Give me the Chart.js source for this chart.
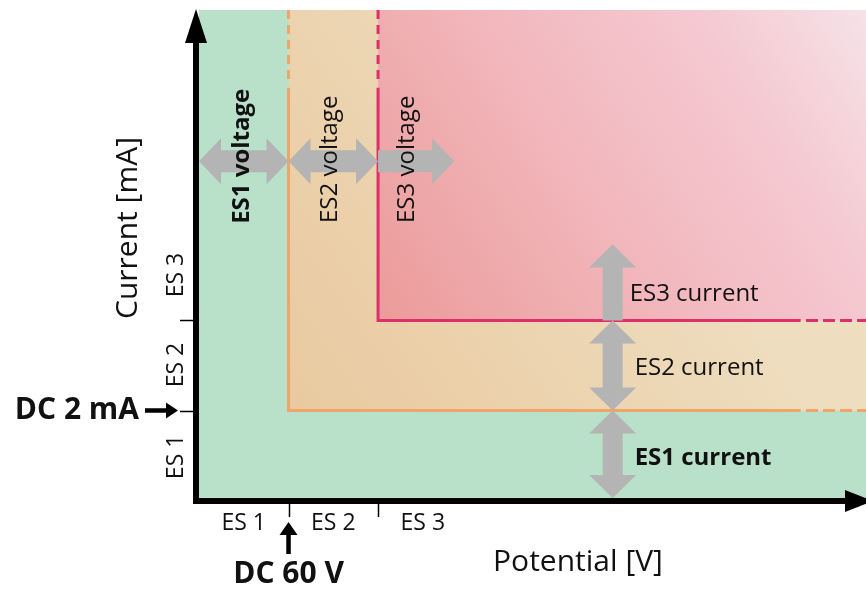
<!DOCTYPE html>
<html>
<head>
<meta charset="utf-8">
<script src="https://cdn.jsdelivr.net/npm/chart.js@4"></script>
<style>
  html, body { margin: 0; padding: 0; background: #fff; }
  #wrap { width: 866px; height: 589px; position: relative; }
</style>
</head>
<body>
<div id="wrap"><canvas id="chart"></canvas></div>
<script>
// Zones (schematic units, not real values)
const zoneLabels = ['ES 1', 'ES 2', 'ES 3'];
const voltageLimits = [1, 2];        // ES1/ES2 and ES2/ES3 on the potential axis
const currentLimits = [1, 2.03];     // ES1/ES2 and ES2/ES3 on the current axis
const xLabelPos = [0.5, 1.5, 2.5];
const yLabelPos = [0.47, 1.52, 2.55];
const X_MAX = 7.45;
const Y_MAX = 5.58;
const dashFromX = 6.72;              // where horizontal limits turn dashed
const dashFromY = 4.69;              // where vertical limits turn dashed

// arrows: [from, to, headAtStart, headAtEnd]
const voltageArrows = [[0, 1, true, true], [1, 2, true, true], [2, 2.85, false, true]];
const currentArrows = [[0, 1, true, true], [1, 2.03, true, true], [2.03, 2.9, false, true]];
const currentArrowX = 4.62;
const voltageArrowY = 3.85;
const voltageTexts = ['ES1 voltage', 'ES2 voltage', 'ES3 voltage'];
const voltageTextX = [0.48, 1.46, 2.32];
const currentTexts = ['ES3 current', 'ES2 current', 'ES1 current'];
const currentTextY = [2.33, 1.48, 0.45];

const FONT = '"Open Sans", "Noto Sans", sans-serif';
const ORANGE = '#efa46a';
const PINK = '#de2f6d';

function lineSet(points, color, dash) {
  return {
    type: 'line',
    data: points,
    borderColor: color,
    borderWidth: 3,
    borderDash: dash || [],
    borderCapStyle: 'butt',
    borderJoinStyle: 'miter',
    pointRadius: 0,
    fill: false,
    tension: 0,
  };
}

function limitLines(xv, yv, color) {
  return [
    lineSet([{ x: xv, y: dashFromY }, { x: xv, y: yv }, { x: dashFromX, y: yv }], color),
    lineSet([{ x: xv, y: Y_MAX }, { x: xv, y: dashFromY + 0.04 }], color, [9, 6]),
    lineSet([{ x: dashFromX + 0.06, y: yv }, { x: X_MAX, y: yv }], color, [12, 5]),
  ];
}

function zoneFill(xv, yv, bg) {
  return {
    type: 'line',
    data: [{ x: xv, y: yv }, { x: X_MAX, y: yv }],
    borderWidth: 0,
    pointRadius: 0,
    fill: 'end',
    backgroundColor: bg,
  };
}

function pinkGradient(c) {
  const chart = c.chart;
  const area = chart.chartArea;
  if (!area) return '#f0b8bc';
  const x0 = chart.scales.x.getPixelForValue(voltageLimits[1]);
  const y0 = chart.scales.y.getPixelForValue(currentLimits[1]);
  const g = chart.ctx.createLinearGradient(x0, y0, area.right, area.top);
  g.addColorStop(0, '#eb9b99');
  g.addColorStop(0.45, '#f2b8be');
  g.addColorStop(0.75, '#f5c9d1');
  g.addColorStop(1, '#f6e2e8');
  return g;
}

function orangeGradient(c) {
  const chart = c.chart;
  const area = chart.chartArea;
  if (!area) return '#edd4b0';
  const x0 = chart.scales.x.getPixelForValue(voltageLimits[0]);
  const y0 = chart.scales.y.getPixelForValue(currentLimits[0]);
  const g = chart.ctx.createLinearGradient(x0, y0, area.right, area.top);
  g.addColorStop(0, '#e9c99f');
  g.addColorStop(0.6, '#eedcbd');
  g.addColorStop(1, '#f0e4c8');
  return g;
}

function blockArrow(ctx, x1, y1, x2, y2, h1, h2, shaft, headW, headL) {
  const len = Math.hypot(x2 - x1, y2 - y1);
  ctx.save();
  ctx.translate(x1, y1);
  ctx.rotate(Math.atan2(y2 - y1, x2 - x1));
  const s = shaft / 2, w = headW / 2;
  const a = h1 ? headL : 0, b = h2 ? len - headL : len;
  ctx.beginPath();
  if (h1) { ctx.moveTo(0, 0); ctx.lineTo(a, -w); ctx.lineTo(a, -s); } else { ctx.moveTo(0, -s); }
  if (h2) { ctx.lineTo(b, -s); ctx.lineTo(b, -w); ctx.lineTo(len, 0); ctx.lineTo(b, w); ctx.lineTo(b, s); } else { ctx.lineTo(len, -s); ctx.lineTo(len, s); }
  if (h1) { ctx.lineTo(a, s); ctx.lineTo(a, w); } else { ctx.lineTo(0, s); }
  ctx.closePath();
  ctx.fill();
  ctx.restore();
}

function text(ctx, str, x, y, font, rot, align) {
  ctx.save();
  ctx.translate(x, y);
  if (rot) ctx.rotate(rot);
  ctx.font = font;
  ctx.fillStyle = '#111';
  ctx.textAlign = align || 'center';
  ctx.textBaseline = 'middle';
  ctx.fillText(str, 0, 0);
  ctx.restore();
}

const decorations = {
  id: 'decorations',
  afterDatasetsDraw(chart) {
    const ctx = chart.ctx;
    const xs = chart.scales.x, ys = chart.scales.y;
    const x0 = xs.getPixelForValue(0), y0 = ys.getPixelForValue(0);

    // grey limit arrows
    ctx.fillStyle = '#b4b4b4';
    const ay = ys.getPixelForValue(voltageArrowY);
    voltageArrows.forEach(([a, b, h1, h2]) => {
      blockArrow(ctx, xs.getPixelForValue(a), ay, xs.getPixelForValue(b), ay, h1, h2, 22, 46, 22);
    });
    const ax = xs.getPixelForValue(currentArrowX);
    currentArrows.forEach(([a, b, h1, h2]) => {
      blockArrow(ctx, ax, ys.getPixelForValue(a), ax, ys.getPixelForValue(b), h1, h2, 20, 47, 23);
    });

    // zone labels inside
    voltageTexts.forEach((t, i) => {
      const bold = i === 0 ? 'bold ' : '';
      text(ctx, t, xs.getPixelForValue(voltageTextX[i]), ay - (i === 0 ? 5 : 2), bold + '24px ' + FONT, -Math.PI / 2);
    });
    currentTexts.forEach((t, i) => {
      const bold = i === 2 ? 'bold ' : '';
      text(ctx, t, ax + (i === 0 ? 17 : 22), ys.getPixelForValue(currentTextY[i]), bold + '24px ' + FONT, 0, 'left');
    });

    // axes with arrow heads
    ctx.fillStyle = '#000';
    ctx.strokeStyle = '#000';
    ctx.lineWidth = 6;
    ctx.lineCap = 'butt';
    ctx.beginPath();
    ctx.moveTo(x0 - 3, 43);
    ctx.lineTo(x0 - 3, y0 + 3);
    ctx.lineTo(845, y0 + 3);
    ctx.stroke();
    ctx.beginPath();
    ctx.moveTo(x0 - 3, 9); ctx.lineTo(x0 - 14, 43); ctx.lineTo(x0 + 8, 43); ctx.closePath();
    ctx.fill();
    ctx.beginPath();
    ctx.moveTo(873, y0 + 3); ctx.lineTo(845, y0 + 3 - 11); ctx.lineTo(845, y0 + 3 + 11); ctx.closePath();
    ctx.fill();

    // ticks at the limits
    ctx.lineWidth = 1.5;
    voltageLimits.forEach((v) => {
      const px = Math.round(xs.getPixelForValue(v)) + 0.5;
      ctx.beginPath(); ctx.moveTo(px, y0 + 6); ctx.lineTo(px, y0 + 19); ctx.stroke();
    });
    currentLimits.forEach((v) => {
      const py = Math.round(ys.getPixelForValue(v)) + 0.5;
      ctx.beginPath(); ctx.moveTo(x0 - 6, py); ctx.lineTo(x0 - 19, py); ctx.stroke();
    });

    // tick labels
    zoneLabels.forEach((lab, i) => {
      text(ctx, lab, xs.getPixelForValue(xLabelPos[i]), y0 + 25, '23px ' + FONT, 0);
      text(ctx, lab, x0 - 23, ys.getPixelForValue(yLabelPos[i]), '23px ' + FONT, -Math.PI / 2);
    });

    // axis titles
    text(ctx, 'Potential [V]', 578, 562, '30px ' + FONT, 0);
    text(ctx, 'Current [mA]', 128, 228, '30px ' + FONT, -Math.PI / 2);

    // DC 2 mA marker
    const yl = ys.getPixelForValue(currentLimits[0]);
    text(ctx, 'DC 2 mA', 139, yl, 'bold 30px ' + FONT, 0, 'right');
    blockArrow(ctx, 145, yl, 178, yl, false, true, 4.5, 16, 12);

    // DC 60 V marker
    const xl = xs.getPixelForValue(voltageLimits[0]);
    blockArrow(ctx, xl, 554, xl, 522, false, true, 4.5, 18, 13);
    text(ctx, 'DC 60 V', xl, 574, 'bold 30px ' + FONT, 0);
  },
};

new Chart(document.getElementById('chart'), {
  type: 'line',
  data: {
    datasets: [
      ...limitLines(voltageLimits[1], currentLimits[1], PINK),
      ...limitLines(voltageLimits[0], currentLimits[0], ORANGE),
      zoneFill(voltageLimits[1], currentLimits[1], pinkGradient),
      zoneFill(voltageLimits[0], currentLimits[0], orangeGradient),
      zoneFill(0, 0, '#b9e1ca'),
    ],
  },
  options: {
    responsive: true,
    maintainAspectRatio: false,
    animation: false,
    layout: { padding: { left: 199, right: 0, top: 10, bottom: 91 } },
    scales: {
      x: { type: 'linear', min: 0, max: X_MAX, display: false },
      y: { type: 'linear', min: 0, max: Y_MAX, display: false },
    },
    plugins: {
      legend: { display: false },
      tooltip: { enabled: false },
    },
  },
  plugins: [decorations],
});
</script>
</body>
</html>
